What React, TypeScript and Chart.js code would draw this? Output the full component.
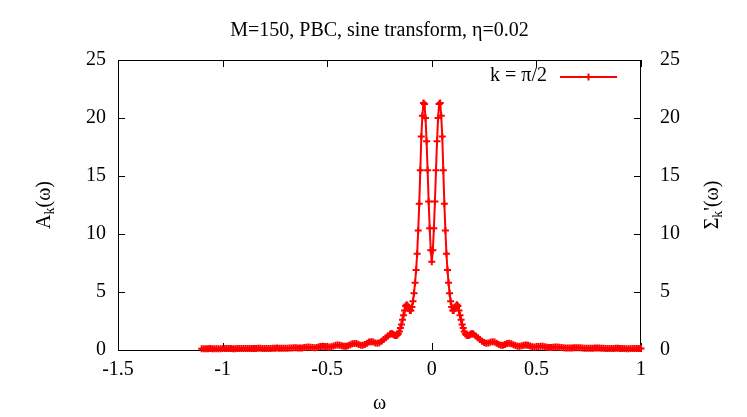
import React, { useEffect, useRef } from "react";
import { Chart, registerables } from "chart.js";

Chart.register(...registerables);

const FONT = '"Liberation Serif", "Times New Roman", serif';
const FS = 20;
const TITLE_FS = 20;

const titleText = "M=150, PBC, sine transform, η=0.02";
const legendLabel = "k = π/2";
const xLabel = "ω";
const xTicks = [-1.5, -1, -0.5, 0, 0.5, 1];
const yTicks = [0, 5, 10, 15, 20, 25];

// far left tail
const omegaLeftFar = [-1.10, -1.09, -1.08, -1.07, -1.06, -1.05, -1.04, -1.03, -1.02, -1.01, -1.00, -0.99, -0.98, -0.97, -0.96, -0.95, -0.94, -0.93, -0.92, -0.91, -0.90, -0.89, -0.88, -0.87, -0.86, -0.85, -0.84, -0.83, -0.82, -0.81, -0.80, -0.79, -0.78, -0.77, -0.76, -0.75, -0.74, -0.73, -0.72, -0.71, -0.70, -0.69, -0.68, -0.67, -0.66, -0.65, -0.64, -0.63, -0.62, -0.61];
const aLeftFar = [0.10, 0.10, 0.11, 0.11, 0.12, 0.11, 0.11, 0.10, 0.10, 0.11, 0.12, 0.13, 0.13, 0.12, 0.12, 0.11, 0.11, 0.12, 0.13, 0.14, 0.14, 0.13, 0.13, 0.12, 0.12, 0.13, 0.14, 0.15, 0.15, 0.14, 0.14, 0.13, 0.13, 0.14, 0.15, 0.16, 0.17, 0.16, 0.16, 0.15, 0.15, 0.16, 0.17, 0.18, 0.19, 0.19, 0.18, 0.17, 0.17, 0.21];

// left oscillating tail
const omegaLeftMid = [-0.60, -0.59, -0.58, -0.57, -0.56, -0.55, -0.54, -0.53, -0.52, -0.51, -0.50, -0.49, -0.48, -0.47, -0.46, -0.45, -0.44, -0.43, -0.42, -0.41, -0.40, -0.39, -0.38, -0.37, -0.36, -0.35, -0.34, -0.33, -0.32, -0.31, -0.30, -0.29, -0.28, -0.27, -0.26, -0.25, -0.24, -0.23, -0.22, -0.21];
const aLeftMid = [0.24, 0.25, 0.23, 0.21, 0.20, 0.22, 0.27, 0.31, 0.33, 0.31, 0.27, 0.25, 0.28, 0.34, 0.40, 0.43, 0.41, 0.37, 0.32, 0.32, 0.37, 0.45, 0.53, 0.57, 0.55, 0.48, 0.42, 0.41, 0.47, 0.58, 0.68, 0.72, 0.68, 0.61, 0.58, 0.63, 0.75, 0.90, 1.05, 1.20];

// central double peak
const omegaCore = [-0.200, -0.195, -0.190, -0.185, -0.180, -0.175, -0.170, -0.165, -0.160, -0.155, -0.150, -0.145, -0.140, -0.135, -0.130, -0.125, -0.120, -0.115, -0.110, -0.105, -0.100, -0.095, -0.090, -0.085, -0.080, -0.075, -0.070, -0.065, -0.060, -0.055, -0.050, -0.045, -0.040, -0.035, -0.030, -0.025, -0.020, -0.015, -0.010, -0.005, 0.000, 0.005, 0.010, 0.015, 0.020, 0.025, 0.030, 0.035, 0.040, 0.045, 0.050, 0.055, 0.060, 0.065, 0.070, 0.075, 0.080, 0.085, 0.090, 0.095, 0.100, 0.105, 0.110, 0.115, 0.120, 0.125, 0.130, 0.135, 0.140, 0.145, 0.150, 0.155, 0.160, 0.165, 0.170, 0.175, 0.180, 0.185, 0.190, 0.195, 0.200];
const aCore = [1.35, 1.40, 1.40, 1.35, 1.30, 1.25, 1.25, 1.30, 1.40, 1.60, 1.90, 2.20, 2.60, 3.00, 3.40, 3.80, 3.90, 3.80, 3.60, 3.40, 3.40, 3.70, 4.20, 4.90, 5.80, 6.90, 8.30, 10.3, 12.6, 15.5, 18.4, 20.2, 21.3, 21.2, 20.0, 18.0, 15.5, 12.8, 10.5, 8.6, 7.6, 8.6, 10.5, 12.8, 15.5, 18.0, 20.0, 21.2, 21.3, 20.2, 18.4, 15.5, 12.6, 10.3, 8.3, 6.9, 5.8, 4.9, 4.2, 3.7, 3.4, 3.4, 3.6, 3.8, 3.9, 3.8, 3.4, 3.0, 2.6, 2.2, 1.9, 1.6, 1.4, 1.3, 1.25, 1.25, 1.30, 1.35, 1.40, 1.40, 1.35];

// right oscillating tail
const omegaRightMid = [0.21, 0.22, 0.23, 0.24, 0.25, 0.26, 0.27, 0.28, 0.29, 0.30, 0.31, 0.32, 0.33, 0.34, 0.35, 0.36, 0.37, 0.38, 0.39, 0.40, 0.41, 0.42, 0.43, 0.44, 0.45, 0.46, 0.47, 0.48, 0.49, 0.50, 0.51, 0.52, 0.53, 0.54, 0.55, 0.56, 0.57, 0.58, 0.59, 0.60];
const aRightMid = [1.20, 1.05, 0.90, 0.76, 0.64, 0.58, 0.60, 0.67, 0.72, 0.68, 0.58, 0.47, 0.41, 0.42, 0.48, 0.55, 0.58, 0.54, 0.46, 0.38, 0.33, 0.33, 0.37, 0.41, 0.43, 0.41, 0.35, 0.29, 0.26, 0.27, 0.30, 0.33, 0.32, 0.28, 0.24, 0.21, 0.21, 0.23, 0.25, 0.25];

// far right tail
const omegaRightFar = [0.61, 0.62, 0.63, 0.64, 0.65, 0.66, 0.67, 0.68, 0.69, 0.70, 0.71, 0.72, 0.73, 0.74, 0.75, 0.76, 0.77, 0.78, 0.79, 0.80, 0.81, 0.82, 0.83, 0.84, 0.85, 0.86, 0.87, 0.88, 0.89, 0.90, 0.91, 0.92, 0.93, 0.94, 0.95, 0.96, 0.97, 0.98, 0.99, 1.00];
const aRightFar = [0.24, 0.22, 0.20, 0.18, 0.17, 0.17, 0.18, 0.19, 0.20, 0.20, 0.19, 0.18, 0.16, 0.15, 0.15, 0.15, 0.16, 0.17, 0.17, 0.17, 0.16, 0.15, 0.14, 0.13, 0.13, 0.13, 0.14, 0.15, 0.15, 0.14, 0.13, 0.12, 0.11, 0.11, 0.12, 0.12, 0.13, 0.13, 0.12, 0.12];

const segments: [number[], number[]][] = [
  [omegaLeftFar, aLeftFar],
  [omegaLeftMid, aLeftMid],
  [omegaCore, aCore],
  [omegaRightMid, aRightMid],
  [omegaRightFar, aRightFar],
];

const RED = "#ff0000";

function drawCross(ctx: CanvasRenderingContext2D, x: number, y: number, r: number) {
  ctx.beginPath();
  ctx.moveTo(x - r, y);
  ctx.lineTo(x + r, y);
  ctx.moveTo(x, y - r);
  ctx.lineTo(x, y + r);
  ctx.stroke();
}

// draws rotated text pieces (normal + subscript) centred at (cx, cy), reading upwards
function drawRotatedLabel(
  ctx: CanvasRenderingContext2D,
  cx: number,
  cy: number,
  parts: { t: string; sub?: boolean }[]
) {
  ctx.save();
  ctx.translate(cx, cy);
  ctx.rotate(-Math.PI / 2);
  ctx.fillStyle = "#000";
  ctx.textBaseline = "alphabetic";
  ctx.textAlign = "left";
  const widths = parts.map((p) => {
    ctx.font = `${p.sub ? 14 : FS}px ${FONT}`;
    return ctx.measureText(p.t).width;
  });
  const total = widths.reduce((a, b) => a + b, 0);
  let x = -total / 2;
  parts.forEach((p, i) => {
    ctx.font = `${p.sub ? 14 : FS}px ${FONT}`;
    ctx.fillText(p.t, x, p.sub ? 10 : 6);
    x += widths[i];
  });
  ctx.restore();
}

const decorPlugin = {
  id: "decor",
  beforeDatasetsDraw(chart: any) {
    const { ctx, chartArea, scales } = chart;
    const { left, right, top, bottom } = chartArea;
    ctx.save();
    ctx.strokeStyle = "#000";
    ctx.lineWidth = 1;
    ctx.strokeRect(left + 0.5, top + 0.5, right - left - 1, bottom - top);
    const tl = 7;
    ctx.beginPath();
    xTicks.forEach((v) => {
      const px = Math.round(scales.x.getPixelForValue(v)) + 0.5;
      ctx.moveTo(px, bottom);
      ctx.lineTo(px, bottom - tl);
      ctx.moveTo(px, top);
      ctx.lineTo(px, top + tl);
    });
    yTicks.forEach((v) => {
      const py = Math.round(scales.y.getPixelForValue(v)) + 0.5;
      ctx.moveTo(left, py);
      ctx.lineTo(left + tl, py);
      ctx.moveTo(right, py);
      ctx.lineTo(right - tl, py);
    });
    ctx.stroke();
    ctx.restore();
  },
  afterDraw(chart: any) {
    const { ctx, chartArea } = chart;
    const midX = (chartArea.left + chartArea.right) / 2;
    const midY = (chartArea.top + chartArea.bottom) / 2;
    ctx.save();
    ctx.fillStyle = "#000";
    ctx.textAlign = "center";
    ctx.textBaseline = "middle";
    ctx.font = `${TITLE_FS}px ${FONT}`;
    ctx.fillText(titleText, midX, 31);
    ctx.font = `${FS}px ${FONT}`;
    ctx.fillText(xLabel, midX, 404);

    // legend
    ctx.textAlign = "right";
    ctx.textBaseline = "middle";
    ctx.fillText(legendLabel, 547, 76);
    ctx.strokeStyle = RED;
    ctx.lineWidth = 2;
    ctx.beginPath();
    ctx.moveTo(560, 77);
    ctx.lineTo(617, 77);
    ctx.stroke();
    ctx.lineWidth = 2;
    drawCross(ctx, 588.5, 77, 3.5);
    ctx.restore();

    drawRotatedLabel(ctx, 44, midY, [{ t: "A" }, { t: "k", sub: true }, { t: "(ω)" }]);
    drawRotatedLabel(ctx, 712, midY, [{ t: "Σ" }, { t: "k", sub: true }, { t: "'(ω)" }]);
  },
};

export default function App() {
  const ref = useRef<HTMLCanvasElement | null>(null);

  useEffect(() => {
    if (!ref.current) return;
    const points: { x: number; y: number }[] = [];
    segments.forEach(([xs, ys]) => {
      xs.forEach((x, i) => points.push({ x, y: ys[i] }));
    });

    const tickFont = { family: FONT, size: FS };
    const chart = new Chart(ref.current, {
      type: "line",
      data: {
        datasets: [
          {
            label: legendLabel,
            data: points,
            borderColor: RED,
            backgroundColor: RED,
            borderWidth: 2,
            pointStyle: "cross",
            pointRadius: 3.5,
            pointBorderWidth: 2,
            pointBorderColor: RED,
            pointBackgroundColor: RED,
            tension: 0,
            clip: false as any,
            yAxisID: "y",
          },
        ],
      },
      options: {
        responsive: false,
        animation: false,
        events: [],
        layout: { padding: { top: 60, left: 0, right: 0, bottom: 0 } },
        plugins: {
          legend: { display: false },
          tooltip: { enabled: false },
          title: { display: false },
        },
        scales: {
          x: {
            type: "linear",
            position: "bottom",
            min: -1.5,
            max: 1,
            afterBuildTicks: (s: any) => {
              s.ticks = xTicks.map((v) => ({ value: v }));
            },
            afterFit: (s: any) => {
              s.height = 67;
            },
            ticks: {
              color: "#000",
              font: tickFont,
              padding: 8,
              maxRotation: 0,
              autoSkip: false,
              callback: (v: any) => String(v),
            },
            grid: { display: false, drawTicks: false },
            border: { display: false },
          },
          y: {
            type: "linear",
            position: "left",
            min: 0,
            max: 25,
            afterBuildTicks: (s: any) => {
              s.ticks = yTicks.map((v) => ({ value: v }));
            },
            afterFit: (s: any) => {
              s.width = 118;
            },
            ticks: {
              color: "#000",
              font: tickFont,
              padding: 12,
              callback: (v: any) => String(v),
            },
            grid: { display: false, drawTicks: false },
            border: { display: false },
          },
          y2: {
            type: "linear",
            position: "right",
            min: 0,
            max: 25,
            afterBuildTicks: (s: any) => {
              s.ticks = yTicks.map((v) => ({ value: v }));
            },
            afterFit: (s: any) => {
              s.width = 106;
            },
            ticks: {
              color: "#000",
              font: tickFont,
              padding: 19,
              callback: (v: any) => String(v),
            },
            grid: { display: false, drawTicks: false },
            border: { display: false },
          },
        },
      },
      plugins: [decorPlugin],
    });
    return () => chart.destroy();
  }, []);

  return (
    <div style={{ position: "absolute", left: 0, top: 0, width: 747, height: 417, background: "#fff" }}>
      <canvas ref={ref} width={747} height={417} style={{ display: "block" }} />
    </div>
  );
}
